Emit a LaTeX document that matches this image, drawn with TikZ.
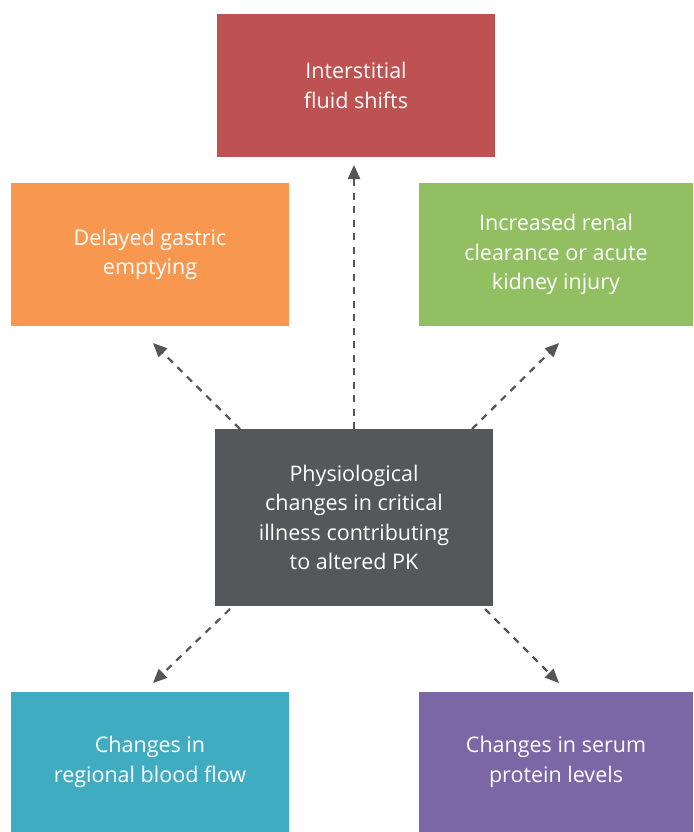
\documentclass[tikz,border=0pt]{standalone}
\usepackage{fontspec}
\setmainfont{Open Sans}
\usetikzlibrary{arrows.meta}
\definecolor{cred}{HTML}{BE5252}
\definecolor{corange}{HTML}{F79750}
\definecolor{cgreen}{HTML}{93BF63}
\definecolor{cdark}{HTML}{56575A}
\definecolor{cteal}{HTML}{40ACC2}
\definecolor{cpurple}{HTML}{7B67A6}
\definecolor{carrow}{HTML}{555555}
\begin{document}
\begin{tikzpicture}[x=1pt,y=-1pt,
  box/.style={draw=none,minimum width=278pt,minimum height=143pt,inner sep=0pt,
    text=white,align=center,font=\fontsize{21.5}{29.5}\selectfont},
  conn/.style={draw=carrow,line width=2.2pt,dash pattern=on 7pt off 6.5pt,
    -{Triangle[length=14pt,width=12pt]}}]
\useasboundingbox (0,0) rectangle (693,832);
\node[box,fill=cred] (top) at (356,85.5) {Interstitial\\fluid shifts};
\node[box,fill=corange] (ul) at (150,254.5) {Delayed gastric\\emptying};
\node[box,fill=cgreen,minimum width=274pt] (ur) at (556,254.5) {Increased renal\\clearance or acute\\kidney injury};
\node[box,fill=cdark,minimum height=177pt] (mid) at (354,517.5) {Physiological\\changes in critical\\illness contributing\\to altered PK};
\node[box,fill=cteal,minimum height=140pt] (ll) at (150,762) {Changes in\\regional blood flow};
\node[box,fill=cpurple,minimum width=274pt,minimum height=140pt] (lr) at (556,762) {Changes in serum\\protein levels};
\coordinate (s1) at (354,429);
\coordinate (e1) at (354,165);
\coordinate (s2) at (240,429);
\coordinate (e2) at (153,343);
\coordinate (s3) at (472,429);
\coordinate (e3) at (559,343);
\coordinate (s4) at (230,609);
\coordinate (e4) at (153,683);
\coordinate (s5) at (485,609);
\coordinate (e5) at (559,683);
\draw[conn] (s1) -- (e1);
\draw[conn] (s2) -- (e2);
\draw[conn] (s3) -- (e3);
\draw[conn] (s4) -- (e4);
\draw[conn] (s5) -- (e5);
\end{tikzpicture}
\end{document}
